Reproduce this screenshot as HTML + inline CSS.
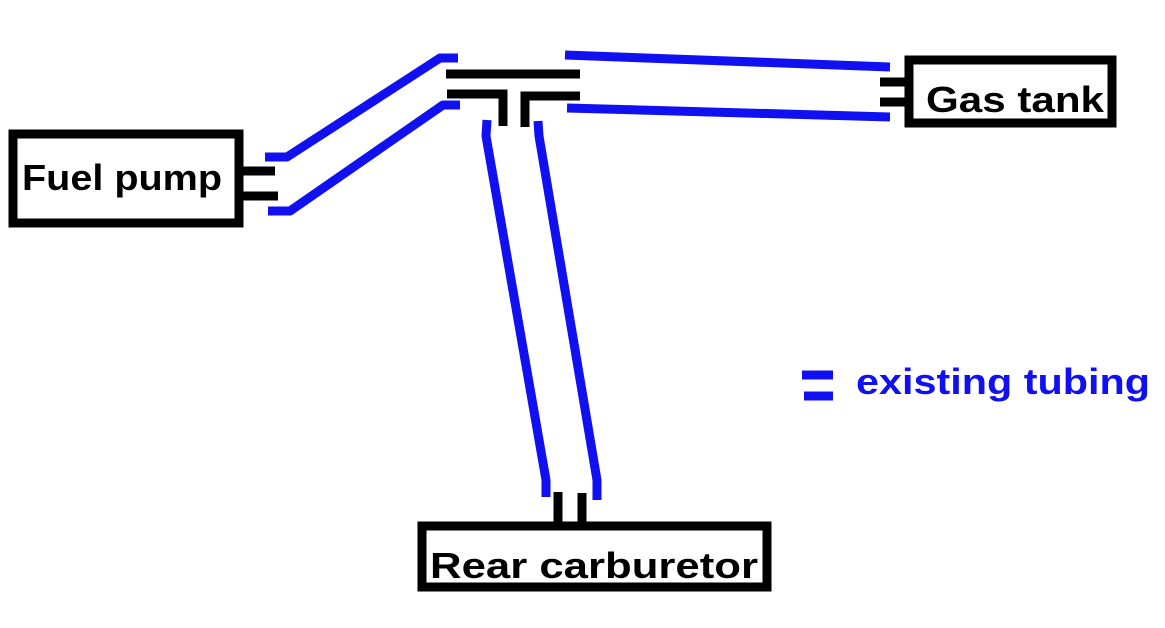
<!DOCTYPE html>
<html><head><style>body{margin:0;background:#fff}svg{display:block}</style></head><body>
<svg width="1165" height="628" xmlns="http://www.w3.org/2000/svg">
<g fill="none" stroke="#000" stroke-width="9" stroke-linecap="butt">
<rect x="13" y="134" width="226" height="89"/>
<line x1="242" y1="171" x2="275" y2="171"/>
<line x1="242" y1="196" x2="278" y2="196"/>
<rect x="909" y="60" width="203" height="63"/>
<line x1="880" y1="82" x2="905" y2="82"/>
<line x1="880" y1="102" x2="905" y2="102"/>
<rect x="422" y="526" width="345" height="61"/>
<line x1="558" y1="492" x2="558" y2="522"/>
<line x1="582" y1="493" x2="582" y2="522"/>
<line x1="446" y1="74" x2="580" y2="74"/>
<polyline points="447,94 503,94 503,126"/>
<polyline points="580,96 525,96 525,127"/>
</g>
<g fill="none" stroke="#1010f0" stroke-width="9" stroke-linejoin="round">
<polyline points="265,157 287,157 440,58 458,58"/>
<polyline points="268,211 290,211 443,105 460,105"/>
<polyline points="487,120 486,136 546,480 546,497"/>
<polyline points="538,121 539,136 597,480 597,500"/>
<polyline points="565,55 890,67"/>
<polyline points="567,108 890,117"/>
<line x1="802" y1="375" x2="833" y2="375"/>
<line x1="804" y1="396" x2="833" y2="396"/>
</g>
<g font-family="Liberation Sans, sans-serif" font-weight="bold" lengthAdjust="spacingAndGlyphs">
<text x="22" y="190" font-size="36" fill="#000" textLength="200" lengthAdjust="spacingAndGlyphs">Fuel pump</text>
<text x="926" y="112" font-size="36" fill="#000" textLength="178" lengthAdjust="spacingAndGlyphs">Gas tank</text>
<text x="430" y="578" font-size="36" fill="#000" textLength="328" lengthAdjust="spacingAndGlyphs">Rear carburetor</text>
<text x="856" y="394" font-size="36" fill="#1010f0" textLength="294" lengthAdjust="spacingAndGlyphs">existing tubing</text>
</g>
</svg>
</body></html>
